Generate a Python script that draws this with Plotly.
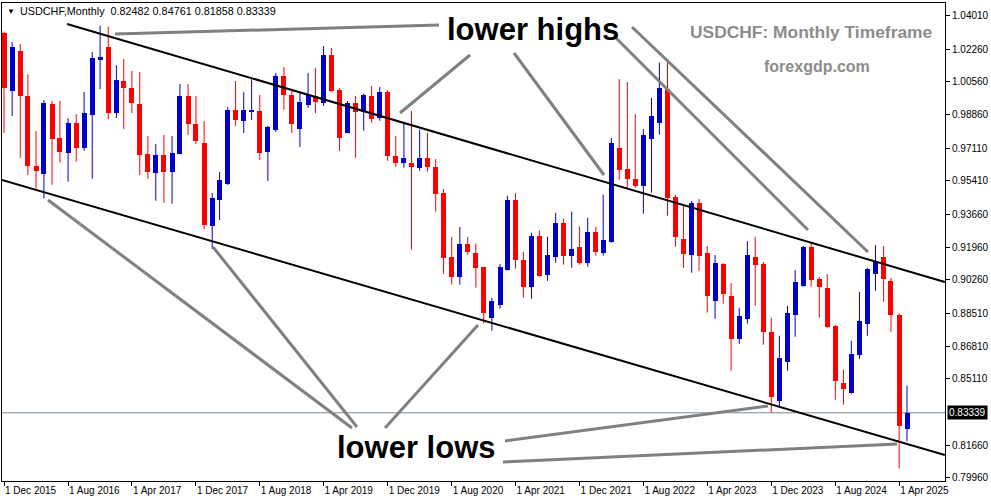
import pandas as pd
import plotly.graph_objects as go

# ---------------- data ----------------
months = pd.date_range("2015-12-01", "2025-05-01", freq="MS")

opens = [1.0310, 1.0011, 1.0217, 0.9983, 0.9620, 0.9578, 0.9941, 0.9764, 0.9688, 0.9842,
         0.9714, 0.9886, 1.0170, 1.0238, 0.9894, 1.0061, 1.0025, 0.9941, 0.9681, 0.9584,
         0.9676, 0.9589, 0.9679, 0.9983, 0.9837, 0.9738, 0.9306, 0.9442, 0.9525, 0.9910,
         0.9853, 0.9900, 0.9905, 0.9691, 0.9806, 1.0087, 0.9988, 0.9811, 0.9936, 0.9983,
         0.9947, 1.0196, 1.0014, 0.9792, 0.9947, 0.9901, 0.9983, 0.9870, 1.0004, 0.9672,
         0.9636, 0.9635, 0.9610, 0.9660, 0.9613, 0.9478, 0.9145, 0.9041, 0.9214, 0.9167,
         0.9094, 0.8829, 0.8896, 0.9079, 0.9442, 0.9131, 0.8990, 0.9256, 0.9052, 0.9146,
         0.9323, 0.9152, 0.9198, 0.9115, 0.9277, 0.9167, 0.9225, 0.9712, 0.9603, 0.9552,
         0.9516, 0.9761, 0.9844, 1.0018, 0.9459, 0.9237, 0.9157, 0.9426, 0.9166, 0.8917,
         0.9108, 0.8942, 0.8720, 0.8823, 0.9144, 0.9108, 0.8755, 0.8395, 0.8600, 0.8843,
         0.8995, 0.9197, 0.9030, 0.8984, 0.8786, 0.8490, 0.8438, 0.8636, 0.8798, 0.9058,
         0.9145, 0.9020, 0.8843, 0.82482]

highs = [1.0318, 1.0263, 1.0254, 1.0097, 0.9801, 0.9962, 0.9957, 0.9957, 0.9868, 0.9889,
         1.0004, 1.0212, 1.0349, 1.0344, 1.0144, 1.0176, 1.0113, 1.0108, 0.9775, 0.9733,
         0.9780, 0.9775, 1.0045, 1.0045, 0.9983, 0.9853, 0.9478, 0.9587, 0.9926, 1.0061,
         1.0003, 1.0071, 0.9988, 0.9827, 1.0103, 1.0134, 1.0009, 1.0003, 1.0103, 1.0129,
         1.0243, 1.0233, 1.0024, 0.9957, 0.9983, 0.9995, 1.0035, 1.0030, 1.0014, 0.9775,
         0.9849, 0.9905, 0.9808, 0.9792, 0.9655, 0.9499, 0.9249, 0.9301, 0.9249, 0.9214,
         0.9094, 0.8933, 0.9108, 0.9464, 0.9478, 0.9172, 0.9271, 0.9282, 0.9251, 0.9375,
         0.9344, 0.9381, 0.9303, 0.9349, 0.9303, 0.9469, 0.9764, 1.0071, 1.0056, 0.9889,
         0.9811, 0.9973, 1.0157, 1.0162, 0.9468, 0.9415, 0.9437, 0.9447, 0.9202, 0.9155,
         0.9113, 0.9009, 0.8879, 0.9228, 0.9249, 0.9119, 0.8829, 0.8735, 0.8890, 0.9077,
         0.9202, 0.9223, 0.9041, 0.9056, 0.8791, 0.8558, 0.8709, 0.8963, 0.9088, 0.9207,
         0.9202, 0.9036, 0.8853, 0.84761]

lows = [0.9790, 0.9879, 0.9662, 0.9572, 0.9502, 0.9450, 0.9521, 0.9636, 0.9537, 0.9641,
        0.9698, 0.9552, 1.0019, 0.9863, 0.9868, 0.9811, 0.9894, 0.9572, 0.9552, 0.9438,
        0.9427, 0.9422, 0.9679, 0.9780, 0.9733, 0.9291, 0.9186, 0.9337, 0.9520, 0.9827,
        0.9790, 0.9858, 0.9650, 0.9540, 0.9796, 0.9910, 0.9790, 0.9718, 0.9921, 0.9894,
        0.9931, 1.0004, 0.9698, 0.9789, 0.9662, 0.9802, 0.9844, 0.9854, 0.9646, 0.9615,
        0.9610, 0.9183, 0.9594, 0.9589, 0.9381, 0.9058, 0.9001, 0.9001, 0.9157, 0.8985,
        0.8798, 0.8761, 0.8876, 0.9074, 0.9084, 0.8933, 0.8928, 0.9042, 0.9021, 0.9115,
        0.9105, 0.9089, 0.9105, 0.9094, 0.9152, 0.9152, 0.9219, 0.9547, 0.9505, 0.9505,
        0.9370, 0.9480, 0.9782, 0.9360, 0.9198, 0.9088, 0.9063, 0.9073, 0.8855, 0.8823,
        0.8902, 0.8553, 0.8693, 0.8798, 0.8891, 0.8688, 0.8334, 0.8369, 0.8553, 0.8730,
        0.8990, 0.8990, 0.8829, 0.8777, 0.8402, 0.8376, 0.8433, 0.8615, 0.8735, 0.8969,
        0.8912, 0.8756, 0.8043, 0.81858]

closes = [1.0026, 1.0237, 0.9983, 0.9620, 0.9594, 0.9947, 0.9761, 0.9693, 0.9842, 0.9714,
          0.9894, 1.0181, 1.0186, 0.9894, 1.0066, 1.0025, 0.9947, 0.9676, 0.9589, 0.9676,
          0.9589, 0.9686, 0.9983, 0.9837, 0.9749, 0.9311, 0.9452, 0.9546, 0.9910, 0.9858,
          0.9910, 0.9910, 0.9686, 0.9821, 1.0087, 0.9988, 0.9837, 0.9952, 0.9988, 0.9952,
          1.0196, 1.0009, 0.9766, 0.9947, 0.9901, 0.9990, 0.9865, 1.0004, 0.9672, 0.9636,
          0.9660, 0.9615, 0.9660, 0.9615, 0.9474, 0.9141, 0.9041, 0.9214, 0.9172, 0.9089,
          0.8855, 0.8917, 0.9093, 0.9442, 0.9131, 0.8990, 0.9256, 0.9047, 0.9157, 0.9323,
          0.9152, 0.9188, 0.9115, 0.9277, 0.9172, 0.9235, 0.9738, 0.9599, 0.9552, 0.9516,
          0.9780, 0.9879, 1.0025, 0.9454, 0.9251, 0.9162, 0.9426, 0.9152, 0.8943, 0.9114,
          0.8954, 0.8720, 0.8838, 0.9155, 0.9105, 0.8756, 0.8418, 0.8619, 0.8853, 0.9015,
          0.9197, 0.9027, 0.8990, 0.8782, 0.8501, 0.8459, 0.8641, 0.8812, 0.9082, 0.9119,
          0.9032, 0.8844, 0.8267, 0.83339]

price_ticks = [1.04010, 1.02260, 1.00560, 0.98860, 0.97110, 0.95410, 0.93660,
               0.91960, 0.90260, 0.88510, 0.86810, 0.85110, 0.81660, 0.79960]
date_ticks = ["2015-12-01", "2016-08-01", "2017-04-01", "2017-12-01", "2018-08-01",
              "2019-04-01", "2019-12-01", "2020-08-01", "2021-04-01", "2021-12-01",
              "2022-08-01", "2023-04-01", "2023-12-01", "2024-08-01", "2025-04-01"]
date_tick_text = ["1 Dec 2015", "1 Aug 2016", "1 Apr 2017", "1 Dec 2017", "1 Aug 2018",
                  "1 Apr 2019", "1 Dec 2019", "1 Aug 2020", "1 Apr 2021", "1 Dec 2021",
                  "1 Aug 2022", "1 Apr 2023", "1 Dec 2023", "1 Aug 2024", "1 Apr 2025"]
current_price = 0.83339

# channel trendlines (time, price) anchors
upper_channel = [("2016-07-28", 1.0358), ("2025-09-22", 0.9015)]
lower_channel = [("2015-11-23", 0.9546), ("2025-09-22", 0.8114)]

# ---------------- layout constants ----------------
W, H = 991, 501
L, R, T, B = 2, 46, 3, 20
PW, PH = W - L - R, H - T - B
UP, DN = "#0000cd", "#ff0000"
FONT = "Liberation Sans, Arial, sans-serif"


def px(x):
    return (x - L) / PW


def py(y):
    return 1 - (y - T) / PH


fig = go.Figure()

# wicks
for colour, want_up in ((UP, True), (DN, False)):
    xs, ys = [], []
    for d, o, h, l, c in zip(months, opens, highs, lows, closes):
        if (c >= o) == want_up:
            xs += [d, d, None]
            ys += [l, h, None]
    fig.add_trace(go.Scatter(x=xs, y=ys, mode="lines",
                             line=dict(color=colour, width=1),
                             hoverinfo="skip", showlegend=False))

# bodies
base = [min(o, c) for o, c in zip(opens, closes)]
height = [max(abs(c - o), 0.0004) for o, c in zip(opens, closes)]
colors = [UP if c >= o else DN for o, c in zip(opens, closes)]
fig.add_trace(go.Bar(x=months, y=height, base=base, width=19 * 86400000,
                     marker=dict(color=colors, line=dict(width=0)),
                     showlegend=False, hoverinfo="skip"))

shapes = []
# current price line
shapes.append(dict(type="line", xref="paper", x0=0, x1=1, yref="y",
                   y0=current_price, y1=current_price,
                   line=dict(color="#778899", width=1), layer="below"))
# channel lines
for (d0, p0), (d1, p1) in (upper_channel, lower_channel):
    shapes.append(dict(type="line", xref="x", yref="y", x0=d0, y0=p0, x1=d1, y1=p1,
                       line=dict(color="black", width=2)))

# grey pointer lines (pixel positions)
pointers = [((115, 34), (439, 25)), ((400, 113), (470, 55)), ((514, 53), (604, 175)),
            ((614, 36), (808, 230)), ((632, 27), (868, 252)),
            ((48, 200), (352, 428)), ((213, 247), (357, 427)), ((385, 428), (478, 325)),
            ((505, 441), (768, 406)), ((503, 462), (897, 444))]
for (x0, y0), (x1, y1) in pointers:
    shapes.append(dict(type="line", xref="paper", yref="paper",
                       x0=px(x0), y0=py(y0), x1=px(x1), y1=py(y1),
                       line=dict(color="#808080", width=3)))

annotations = [
    dict(text="lower highs", x=px(533), y=py(30), xref="paper", yref="paper",
         showarrow=False, xanchor="center", yanchor="middle",
         font=dict(family=FONT, size=31, color="black", weight="bold")),
    dict(text="lower lows", x=px(416), y=py(447), xref="paper", yref="paper",
         showarrow=False, xanchor="center", yanchor="middle",
         font=dict(family=FONT, size=31, color="black", weight="bold")),
    dict(text="USDCHF: Monthly Timeframe", x=px(811), y=py(32), xref="paper", yref="paper",
         showarrow=False, xanchor="center", yanchor="middle",
         font=dict(family=FONT, size=17.4, color="#8c8c8c", weight="bold")),
    dict(text="forexgdp.com", x=px(817), y=py(66), xref="paper", yref="paper",
         showarrow=False, xanchor="center", yanchor="middle",
         font=dict(family=FONT, size=16, color="#8c8c8c", weight="bold")),
    dict(text="▼", x=px(5), y=py(11), xref="paper", yref="paper",
         showarrow=False, xanchor="left", yanchor="middle",
         font=dict(family=FONT, size=8, color="black")),
    dict(text="USDCHF,Monthly\u00a0\u00a0%.5f %.5f %.5f %.5f" % (opens[-1], highs[-1], lows[-1], closes[-1]),
         x=px(18), y=py(11), xref="paper", yref="paper",
         showarrow=False, xanchor="left", yanchor="middle",
         font=dict(family=FONT, size=10.8, color="black")),
    dict(text="%.5f" % current_price, x=1, y=current_price, xref="paper", yref="y",
         xshift=2, showarrow=False, xanchor="left", yanchor="middle",
         bgcolor="black", borderpad=1,
         font=dict(family=FONT, size=10, color="white")),
]

fig.update_layout(
    width=W, height=H,
    margin=dict(l=L, r=R, t=T, b=B, pad=0, autoexpand=False),
    paper_bgcolor="white", plot_bgcolor="white",
    barmode="overlay", bargap=0,
    shapes=shapes, annotations=annotations,
    font=dict(family=FONT, size=10, color="black"),
    xaxis=dict(type="date", range=["2015-11-23 09:00", "2025-09-22 17:00"],
               tickvals=date_ticks, ticktext=date_tick_text,
               ticks="outside", ticklen=4, tickcolor="black",
               ticklabelposition="outside right",
               showgrid=False, zeroline=False, showline=True, linecolor="black",
               linewidth=1, mirror=True, fixedrange=True,
               tickfont=dict(family=FONT, size=10, color="black")),
    yaxis=dict(side="right", range=[0.79788, 1.04671],
               tickvals=price_ticks, ticktext=["%.5f" % v for v in price_ticks],
               ticks="outside", ticklen=4, tickcolor="black",
               showgrid=False, zeroline=False, showline=True, linecolor="black",
               linewidth=1, mirror=True, fixedrange=True,
               tickfont=dict(family=FONT, size=10, color="black")),
)

fig.write_html("out.html", config={"displayModeBar": False},
               post_script="document.body.style.margin='0';document.body.style.padding='0';")
